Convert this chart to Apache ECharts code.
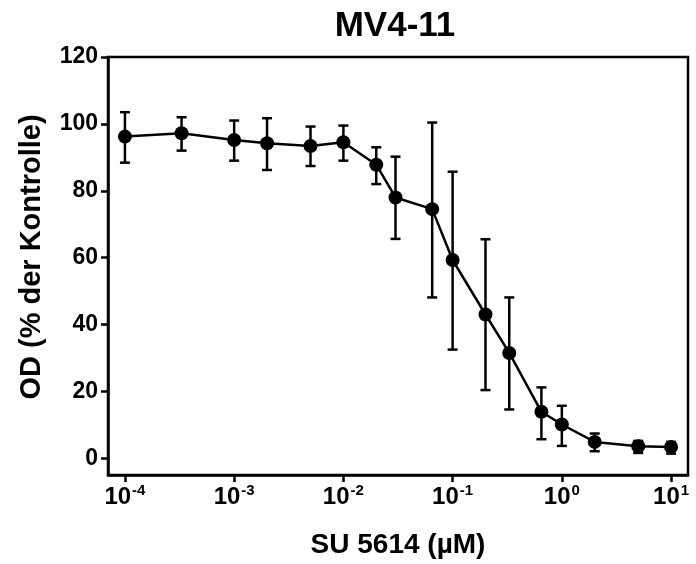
<!DOCTYPE html>
<html>
<head>
<meta charset="utf-8">
<script src="https://cdn.jsdelivr.net/npm/echarts@6/dist/echarts.min.js"></script>
<style>
  html, body { margin: 0; padding: 0; background: #fff; }
  #chart { width: 696px; height: 564px; }
</style>
</head>
<body>
<div id="chart"></div>
<script>
// Konzentrationen (µM) und OD-Werte (% der Kontrolle)
const conc  = [1e-4, 3.3e-4, 1e-3, 2e-3, 5e-3, 1e-2, 2e-2, 3e-2, 6.5e-2, 0.1, 0.2, 0.33, 0.65, 1, 2, 5, 10];
const mean  = [96.2, 97.2, 95.2, 94.2, 93.4, 94.5, 87.8, 78.0, 74.5, 59.3, 43.0, 31.5, 13.9, 10.1, 4.9, 3.6, 3.4];
const upper = [103.5, 102.0, 101.0, 101.7, 99.2, 99.5, 93.0, 90.2, 100.4, 85.7, 65.5, 48.1, 21.2, 15.7, 7.4, 5.2, 4.9];
const lower = [88.4, 92.0, 89.0, 86.2, 87.4, 89.0, 82.0, 65.6, 48.1, 32.5, 20.4, 14.6, 5.7, 3.7, 2.1, 1.6, 1.4];
const xExponents = [-4, -3, -2, -1, 0, 1];
const yTicks = [0, 20, 40, 60, 80, 100, 120];

const font = 'Liberation Sans, Arial, sans-serif';
const chart = echarts.init(document.getElementById('chart'));

const lineData = conc.map((c, i) => [Math.log10(c), mean[i]]);
const errData = conc.map((c, i) => [Math.log10(c), lower[i], upper[i]]);

// Fehlerbalken mit Kappen
function renderError(params, api) {
  const x = api.value(0);
  const lo = api.coord([x, api.value(1)]);
  const hi = api.coord([x, api.value(2)]);
  const cap = 5;
  const style = { stroke: '#000', lineWidth: 2.5 };
  return {
    type: 'group',
    children: [
      { type: 'line', shape: { x1: lo[0], y1: lo[1], x2: hi[0], y2: hi[1] }, style },
      { type: 'line', shape: { x1: hi[0] - cap, y1: hi[1], x2: hi[0] + cap, y2: hi[1] }, style },
      { type: 'line', shape: { x1: lo[0] - cap, y1: lo[1], x2: lo[0] + cap, y2: lo[1] }, style }
    ]
  };
}

const option = {
  backgroundColor: '#fff',
  animation: false,
  title: {
    text: 'MV4-11',
    left: 390,
    textAlign: 'center',
    top: 4,
    textStyle: { fontFamily: font, fontWeight: 'bold', fontSize: 35, color: '#000' }
  },
  grid: {
    left: 108, right: 8, top: 57, bottom: 89,
    show: true, borderColor: '#000', borderWidth: 2.5, backgroundColor: 'transparent'
  },
  xAxis: {
    type: 'value',
    min: -4.155,
    max: 1.155,
    name: 'SU 5614 (µM)',
    nameLocation: 'middle',
    nameGap: 56,
    nameTextStyle: { fontFamily: font, fontWeight: 'bold', fontSize: 28, color: '#000' },
    axisLine: { show: true, onZero: false, lineStyle: { color: '#000', width: 2.5 } },
    axisTick: { show: true, length: 7, lineStyle: { color: '#000', width: 2.5 }, customValues: xExponents },
    splitLine: { show: false },
    axisLabel: {
      customValues: xExponents,
      margin: 8,
      fontFamily: font,
      formatter: v => '{b|10}{s|' + Math.round(v) + '}',
      rich: {
        b: { fontFamily: font, fontWeight: 'bold', fontSize: 24, color: '#000' },
        s: { fontFamily: font, fontWeight: 'bold', fontSize: 15, color: '#000', padding: [0, 0, 14, 1] }
      }
    }
  },
  yAxis: {
    type: 'value',
    min: -5,
    max: 120,
    name: 'OD (% der Kontrolle)',
    nameLocation: 'middle',
    nameGap: 62,
    nameTextStyle: { fontFamily: font, fontWeight: 'bold', fontSize: 29, color: '#000', padding: [0, 0, 0, 18] },
    axisLine: { show: true, onZero: false, lineStyle: { color: '#000', width: 2.5 } },
    axisTick: { show: true, length: 7, lineStyle: { color: '#000', width: 2.5 }, customValues: yTicks },
    splitLine: { show: false },
    axisLabel: {
      customValues: yTicks,
      margin: 10,
      fontFamily: font, fontWeight: 'bold', fontSize: 23, color: '#000'
    }
  },
  series: [
    {
      type: 'custom',
      renderItem: renderError,
      data: errData,
      encode: { x: 0, y: [1, 2] },
      z: 2
    },
    {
      type: 'line',
      data: lineData,
      symbol: 'circle',
      symbolSize: 14,
      lineStyle: { color: '#000', width: 2.5 },
      itemStyle: { color: '#000' },
      z: 3
    }
  ]
};

chart.setOption(option);
</script>
</body>
</html>
